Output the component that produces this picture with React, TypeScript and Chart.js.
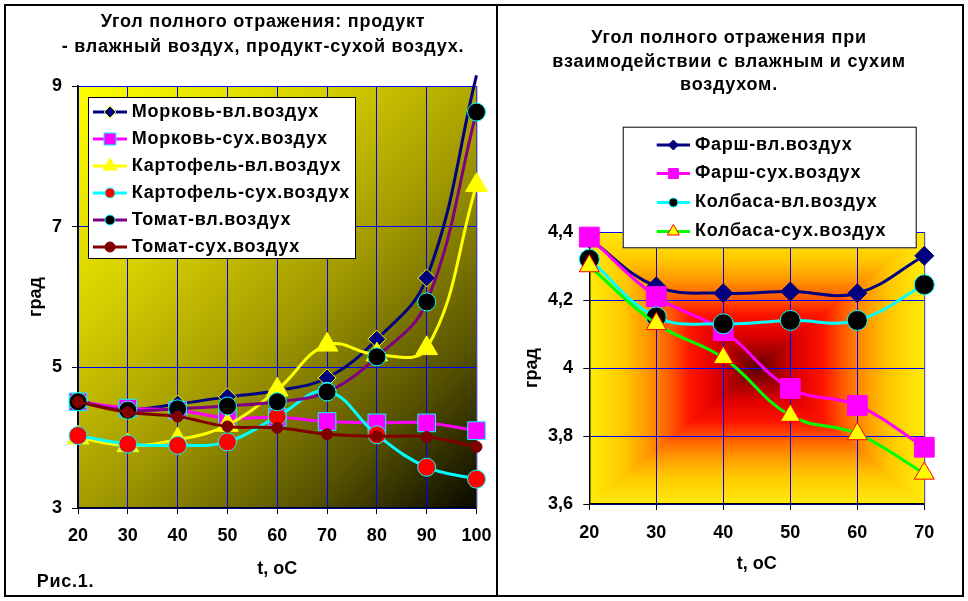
import React, { useEffect, useRef } from "react";
import { Chart, registerables } from "chart.js";

Chart.register(...registerables);

const FONT = "'Liberation Sans', Arial, Helvetica, sans-serif";

// ---------- Left chart data ----------
const leftX = [20, 30, 40, 50, 60, 70, 80, 90, 100];
const morkovVl = [4.52, 4.4, 4.48, 4.58, 4.67, 4.85, 5.4, 6.27, 9.15];
const morkovSukh = [4.51, 4.42, 4.39, 4.28, 4.29, 4.23, 4.21, 4.21, 4.1];
const kartofelVl = [4.0, 3.89, 3.97, 4.18, 4.68, 5.32, 5.18, 5.27, 7.59];
const kartofelSukh = [4.03, 3.91, 3.89, 3.94, 4.3, 4.66, 4.04, 3.58, 3.41];
const tomatVl = [4.51, 4.39, 4.41, 4.45, 4.51, 4.65, 5.15, 5.93, 8.63];
const tomatSukh = [4.51, 4.36, 4.3, 4.16, 4.14, 4.05, 4.02, 4.01, 3.87];
const leftYMin = 3;
const leftYMax = 9;
const leftYStep = 2;
const leftTitle = ["Угол полного отражения: продукт", "- влажный воздух, продукт-сухой воздух."];

// ---------- Right chart data ----------
const rightX = [20, 30, 40, 50, 60, 70];
const farshVl = [4.38, 4.24, 4.22, 4.225, 4.22, 4.33];
const farshSukh = [4.385, 4.21, 4.11, 3.94, 3.89, 3.767];
const kolbasaVl = [4.32, 4.15, 4.13, 4.14, 4.14, 4.245];
const kolbasaSukh = [4.3, 4.13, 4.03, 3.86, 3.806, 3.69];
const rightYMin = 3.6;
const rightYMax = 4.4;
const rightYStep = 0.2;
const rightTitle = ["Угол полного отражения при", "взаимодействии с влажным и сухим", "воздухом."];

const xTitle = "t, oC";
const yTitle = "град";
const figLabel = "Рис.1.";

type Series = {
  label: string;
  data: number[];
  line: string;
  style: string;
  fill: string;
  stroke: string;
  r: number | number[];
  lr: number;
};

const leftSeries: Series[] = [
  { label: "Морковь-вл.воздух", data: morkovVl, line: "#000080", style: "rectRot", fill: "#000080", stroke: "#ffff00", r: [9, 9, 9, 9, 9, 9, 9, 9, 0], lr: 6 },
  { label: "Морковь-сух.воздух", data: morkovSukh, line: "#ff00ff", style: "rect", fill: "#ff00ff", stroke: "#00ffff", r: 12.5, lr: 6 },
  { label: "Картофель-вл.воздух", data: kartofelVl, line: "#ffff00", style: "triangle", fill: "#ffff00", stroke: "#ffff00", r: 12.5, lr: 8 },
  { label: "Картофель-сух.воздух", data: kartofelSukh, line: "#00ffff", style: "circle", fill: "#ff0000", stroke: "#00ffff", r: 9, lr: 5 },
  { label: "Томат-вл.воздух", data: tomatVl, line: "#800080", style: "circle", fill: "#000000", stroke: "#00ffff", r: 9, lr: 5 },
  { label: "Томат-сух.воздух", data: tomatSukh, line: "#800000", style: "circle", fill: "#800000", stroke: "#800000", r: 5.5, lr: 5 },
];

const rightSeries: Series[] = [
  { label: "Фарш-вл.воздух", data: farshVl, line: "#000080", style: "rectRot", fill: "#000080", stroke: "#000080", r: 9.5, lr: 5 },
  { label: "Фарш-сух.воздух", data: farshSukh, line: "#ff00ff", style: "rect", fill: "#ff00ff", stroke: "#ff00ff", r: 14, lr: 5 },
  { label: "Колбаса-вл.воздух", data: kolbasaVl, line: "#00ffff", style: "circle", fill: "#000000", stroke: "#00ffff", r: 10, lr: 4.5 },
  { label: "Колбаса-сух.воздух", data: kolbasaSukh, line: "#00ff00", style: "triangle", fill: "#ffff00", stroke: "#ff0000", r: 11.5, lr: 7 },
];

function drawMarker(ctx: CanvasRenderingContext2D, style: string, x: number, y: number, r: number, fill: string, stroke: string) {
  ctx.save();
  ctx.beginPath();
  if (style === "circle") ctx.arc(x, y, r, 0, Math.PI * 2);
  else if (style === "rect") ctx.rect(x - r, y - r, 2 * r, 2 * r);
  else if (style === "rectRot") {
    ctx.moveTo(x - r, y);
    ctx.lineTo(x, y - r);
    ctx.lineTo(x + r, y);
    ctx.lineTo(x, y + r);
    ctx.closePath();
  } else if (style === "triangle") {
    ctx.moveTo(x, y - r);
    ctx.lineTo(x + r * 0.866, y + r * 0.5);
    ctx.lineTo(x - r * 0.866, y + r * 0.5);
    ctx.closePath();
  }
  ctx.fillStyle = fill;
  ctx.fill();
  ctx.lineWidth = 1;
  ctx.strokeStyle = stroke;
  ctx.stroke();
  ctx.restore();
}

function buildDatasets(xs: number[], series: Series[]) {
  return series.map((s, i) => ({
    label: s.label,
    data: xs.map((x, j) => ({ x, y: s.data[j] })),
    borderColor: s.line,
    backgroundColor: s.line,
    borderWidth: 3,
    tension: 0.4,
    capBezierPoints: false,
    clip: false,
    pointStyle: s.style,
    pointRadius: s.r,
    pointBackgroundColor: s.fill,
    pointBorderColor: s.stroke,
    pointBorderWidth: 1,
    order: series.length - i,
  }));
}

const tickFont = { family: FONT, size: 18, weight: "bold" as const };

type Layout = {
  padTop: number;
  padRight: number;
  yWidth: number;
  xHeight: number;
  xTickPad: number;
  yTickPad: number;
  xTitlePad: number;
  yTitlePad: number;
};

function makeScales(L: Layout, xs: number[], yMin: number, yMax: number, yStep: number, fmt: (v: number) => string) {
  return {
    x: {
      type: "linear",
      min: xs[0],
      max: xs[xs.length - 1],
      ticks: { stepSize: 10, autoSkip: false, maxRotation: 0, color: "#000", font: tickFont, padding: L.xTickPad },
      grid: { color: "#0000ff", lineWidth: 1, tickColor: "#000", tickLength: 6 },
      border: { color: "#000", width: 1.5 },
      title: { display: true, text: xTitle, color: "#000", font: tickFont, padding: { top: 0, bottom: L.xTitlePad } },
      afterFit: (s: any) => {
        s.height = L.xHeight;
        s.paddingLeft = 0;
        s.paddingRight = 0;
      },
    },
    y: {
      type: "linear",
      min: yMin,
      max: yMax,
      ticks: { stepSize: yStep, color: "#000", font: tickFont, padding: L.yTickPad, callback: (v: any) => fmt(Number(v)) },
      grid: { color: "#0000ff", lineWidth: 1, tickColor: "#000", tickLength: 6 },
      border: { color: "#000", width: 1.5 },
      title: { display: true, text: yTitle, color: "#000", font: tickFont, padding: { top: L.yTitlePad, bottom: 0 } },
      afterFit: (s: any) => {
        s.width = L.yWidth;
        s.paddingTop = 0;
        s.paddingBottom = 0;
      },
    },
  };
}

type LegendSpec = {
  box: [number, number, number, number];
  rows: number[];
  lineX0: number;
  lineX1: number;
  textX: number;
};

function setTextStyle(ctx: CanvasRenderingContext2D, align: CanvasTextAlign) {
  ctx.fillStyle = "#000";
  ctx.font = `bold 18px ${FONT}`;
  ctx.textAlign = align;
  ctx.textBaseline = "middle";
  (ctx as any).letterSpacing = "0.75px";
}

function drawLegend(ctx: CanvasRenderingContext2D, series: Series[], spec: LegendSpec) {
  const [x0, y0, x1, y1] = spec.box;
  ctx.save();
  ctx.fillStyle = "#fff";
  ctx.fillRect(x0, y0, x1 - x0, y1 - y0);
  ctx.strokeStyle = "#000";
  ctx.lineWidth = 1;
  ctx.strokeRect(x0 + 0.5, y0 + 0.5, x1 - x0 - 1, y1 - y0 - 1);
  series.forEach((s, i) => {
    const y = spec.rows[i];
    ctx.beginPath();
    ctx.strokeStyle = s.line;
    ctx.lineWidth = 3;
    ctx.moveTo(spec.lineX0, y);
    ctx.lineTo(spec.lineX1, y);
    ctx.stroke();
    drawMarker(ctx, s.style, (spec.lineX0 + spec.lineX1) / 2, y, s.lr, s.fill, s.stroke);
    setTextStyle(ctx, "left");
    ctx.fillText(s.label, spec.textX, y);
  });
  ctx.restore();
}

function drawLines(ctx: CanvasRenderingContext2D, lines: string[], cx: number, ys: number[]) {
  ctx.save();
  setTextStyle(ctx, "center");
  lines.forEach((t, i) => ctx.fillText(t, cx, ys[i]));
  ctx.restore();
}

function leftConfig(): any {
  const L: Layout = { padTop: 86, padRight: 20.5, yWidth: 78, xHeight: 93, xTickPad: 11.5, yTickPad: 10, xTitlePad: 21.6, yTitlePad: 25 };
  const bg = {
    id: "leftBg",
    beforeDraw(chart: any) {
      const { ctx, chartArea: a } = chart;
      ctx.save();
      ctx.fillStyle = "#fff";
      ctx.fillRect(0, 0, chart.width, chart.height);
      const g = ctx.createLinearGradient(a.left, a.top, a.right, a.bottom);
      g.addColorStop(0, "#ffff00");
      g.addColorStop(0.3, "#d6ce00");
      g.addColorStop(0.55, "#a09800");
      g.addColorStop(0.8, "#545000");
      g.addColorStop(1, "#080800");
      ctx.fillStyle = g;
      ctx.fillRect(a.left, a.top, a.right - a.left, a.bottom - a.top);
      ctx.restore();
    },
    beforeDatasetsDraw(chart: any) {
      const { ctx, chartArea: a } = chart;
      ctx.save();
      ctx.strokeStyle = "#808080";
      ctx.lineWidth = 1;
      ctx.beginPath();
      ctx.moveTo(a.right + 0.5, a.top);
      ctx.lineTo(a.right + 0.5, a.bottom);
      ctx.stroke();
      ctx.restore();
    },
    afterDraw(chart: any) {
      const ctx = chart.ctx;
      drawLines(ctx, leftTitle, 263, [21.9, 46.9]);
      ctx.save();
      setTextStyle(ctx, "left");
      ctx.fillText(figLabel, 36.7, 581.7);
      ctx.restore();
      drawLegend(ctx, leftSeries, { box: [88, 97, 356, 259], rows: [112, 139, 166, 193, 220, 247], lineX0: 93, lineX1: 127, textX: 131.7 });
    },
  };
  return {
    type: "line",
    data: { datasets: buildDatasets(leftX, leftSeries) },
    options: {
      responsive: false,
      animation: false,
      events: [],
      layout: { padding: { left: 0, top: L.padTop, right: L.padRight, bottom: 0 } },
      plugins: { legend: { display: false }, title: { display: false }, tooltip: { enabled: false } },
      scales: makeScales(L, leftX, leftYMin, leftYMax, leftYStep, (v) => String(Math.round(v))),
    },
    plugins: [bg],
  };
}

function rightConfig(): any {
  const L: Layout = { padTop: 232, padRight: 43.7, yWidth: 91.3, xHeight: 97, xTickPad: 12.2, yTickPad: 10.3, xTitlePad: 25.9, yTitlePad: 23.3 };
  const stops: [number, number[]][] = [
    [0, [90, 0, 0]],
    [0.12, [160, 0, 0]],
    [0.25, [225, 0, 0]],
    [0.4, [255, 20, 0]],
    [0.52, [255, 90, 0]],
    [0.65, [255, 150, 0]],
    [0.8, [255, 200, 0]],
    [1, [255, 235, 10]],
  ];
  const colorAt = (t: number) => {
    for (let i = 1; i < stops.length; i++) {
      if (t <= stops[i][0]) {
        const [t0, c0] = stops[i - 1];
        const [t1, c1] = stops[i];
        const f = (t - t0) / (t1 - t0);
        const c = c0.map((v, k) => Math.round(v + (c1[k] - v) * f));
        return `rgb(${c[0]},${c[1]},${c[2]})`;
      }
    }
    const c = stops[stops.length - 1][1];
    return `rgb(${c[0]},${c[1]},${c[2]})`;
  };
  const bg = {
    id: "rightBg",
    beforeDraw(chart: any) {
      const { ctx, chartArea: a } = chart;
      ctx.save();
      ctx.fillStyle = "#fff";
      ctx.fillRect(0, 0, chart.width, chart.height);
      const cx = (a.left + a.right) / 2;
      const cy = (a.top + a.bottom) / 2;
      const hw = (a.right - a.left) / 2;
      const hh = (a.bottom - a.top) / 2;
      const N = 90;
      for (let i = N; i >= 1; i--) {
        const t = i / N;
        ctx.fillStyle = colorAt(t);
        ctx.fillRect(cx - hw * t, cy - hh * t, 2 * hw * t, 2 * hh * t);
      }
      ctx.restore();
    },
    beforeDatasetsDraw(chart: any) {
      const { ctx, chartArea: a } = chart;
      ctx.save();
      ctx.strokeStyle = "#808080";
      ctx.lineWidth = 1;
      ctx.beginPath();
      ctx.moveTo(a.right + 0.5, a.top);
      ctx.lineTo(a.right + 0.5, a.bottom);
      ctx.stroke();
      ctx.restore();
    },
    afterDraw(chart: any) {
      const ctx = chart.ctx;
      drawLines(ctx, rightTitle, 231, [38, 62, 85.5]);
      drawLegend(ctx, rightSeries, { box: [124.7, 126.7, 418.7, 248.3], rows: [145, 173.5, 202.5, 231.5], lineX0: 158.7, lineX1: 192, textX: 197 });
    },
  };
  return {
    type: "line",
    data: { datasets: buildDatasets(rightX, rightSeries) },
    options: {
      responsive: false,
      animation: false,
      events: [],
      layout: { padding: { left: 0, top: L.padTop, right: L.padRight, bottom: 0 } },
      plugins: { legend: { display: false }, title: { display: false }, tooltip: { enabled: false } },
      scales: makeScales(L, rightX, rightYMin, rightYMax, rightYStep, (v) => {
        const r = Math.round(v * 10) / 10;
        return String(r).replace(".", ",");
      }),
    },
    plugins: [bg],
  };
}

function ChartCanvas({ left, width, height, config }: { left: number; width: number; height: number; config: () => any }) {
  const ref = useRef<HTMLCanvasElement>(null);
  useEffect(() => {
    const chart = new Chart(ref.current as HTMLCanvasElement, config());
    return () => chart.destroy();
  }, []);
  return (
    <canvas
      ref={ref}
      width={width}
      height={height}
      style={{ position: "absolute", left, top: 0, width, height, display: "block" }}
    />
  );
}

export default function App() {
  return (
    <div style={{ position: "absolute", left: 0, top: 0, width: 968, height: 601, background: "#fff", overflow: "hidden" }}>
      <ChartCanvas left={0} width={497} height={601} config={leftConfig} />
      <ChartCanvas left={498} width={470} height={601} config={rightConfig} />
      <div style={{ position: "absolute", left: 4, top: 4, width: 960, height: 593, border: "2px solid #000", boxSizing: "border-box", pointerEvents: "none" }} />
      <div style={{ position: "absolute", left: 496, top: 4, width: 2, height: 593, background: "#000", pointerEvents: "none" }} />
    </div>
  );
}
